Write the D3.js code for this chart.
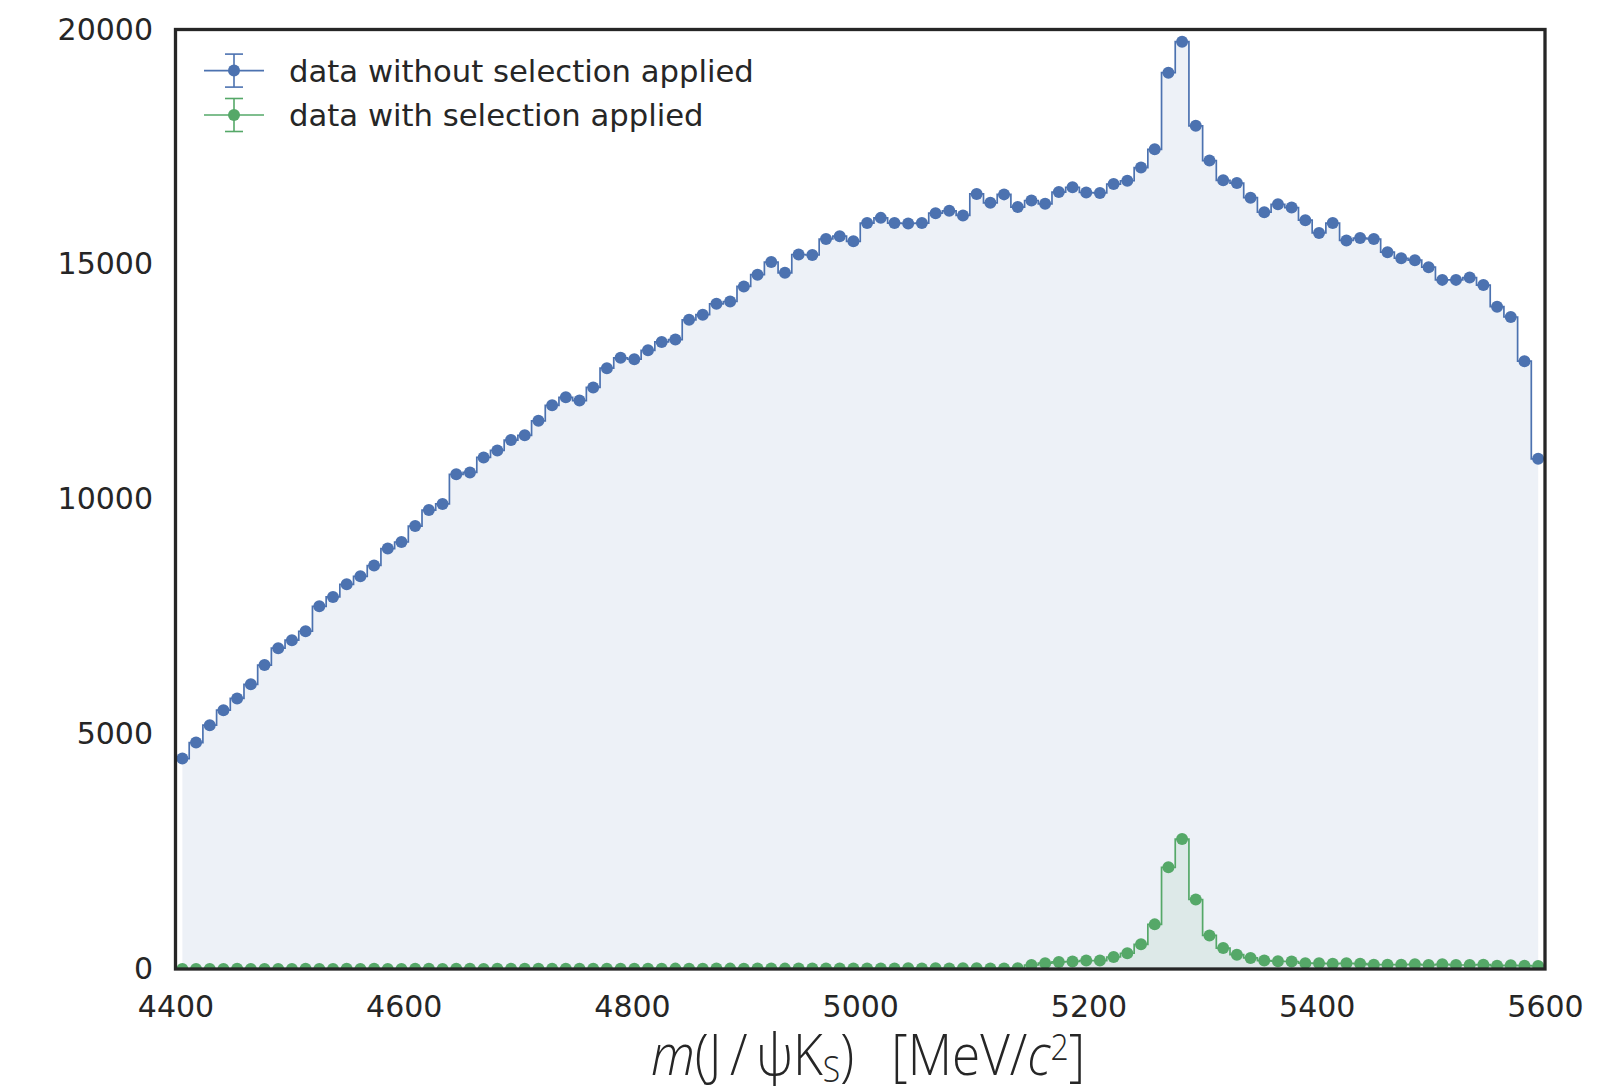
<!DOCTYPE html>
<html>
<head>
<meta charset="utf-8">
<script src="https://cdn.jsdelivr.net/npm/d3@7"></script>
<style>
  html, body { margin: 0; padding: 0; background: #ffffff; }
  svg { display: block; }
</style>
</head>
<body>
<svg id="chart" width="1624" height="1086"></svg>
<script>
// Histogram binning of the J/psi K_S invariant mass (MeV/c^2)
const massLow = 4400;
const massHigh = 5600;
const binWidth = 12;

const xTickValues = [4400, 4600, 4800, 5000, 5200, 5400, 5600];
const yTickValues = [0, 5000, 10000, 15000, 20000];

// Candidates per bin, no selection
const countsAll = [
  4480, 4820, 5190, 5510, 5760, 6060, 6470, 6830, 7000, 7190,
  7720, 7920, 8190, 8360, 8590, 8950, 9090, 9430, 9770, 9900,
  10530, 10570, 10890, 11040, 11260, 11360, 11670, 12000, 12170, 12100,
  12380, 12790, 13010, 12980, 13170, 13350, 13400, 13820, 13930, 14160,
  14210, 14530, 14780, 15050, 14820, 15210, 15200, 15540, 15600, 15490,
  15880, 15990, 15880, 15870, 15880, 16090, 16140, 16040, 16500, 16310,
  16490, 16220, 16360, 16290, 16540, 16640, 16530, 16520, 16710, 16780,
  17060, 17450, 19080, 19740, 17950, 17210, 16790, 16730, 16420, 16110,
  16280, 16210, 15940, 15670, 15880, 15510, 15560, 15540, 15260, 15130,
  15090, 14940, 14670, 14670, 14720, 14560, 14100, 13880, 12940, 10860
];

// Candidates per bin after the selection
const countsSelected = [
  0, 2, 0, 1, 3, 0, 2, 1, 0, 3,
  2, 1, 4, 2, 3, 1, 2, 4, 3, 2,
  3, 4, 2, 5, 3, 4, 6, 3, 5, 4,
  6, 5, 4, 7, 5, 6, 8, 6, 7, 9,
  8, 7, 9, 10, 8, 11, 9, 12, 10, 11,
  12, 13, 11, 14, 12, 15, 13, 14, 16, 10,
  12, 15, 85, 125, 150, 160, 180, 180, 255, 335,
  525, 950, 2165, 2765, 1480, 715, 445, 305, 235, 180,
  165, 160, 125, 120, 113, 120, 113, 92, 92, 92,
  99, 85, 99, 85, 85, 92, 71, 78, 71, 64
];

const binCenters = countsAll.map((_, i) => massLow + binWidth * (i + 0.5));

const colAll = "#4c72b0";
const colSel = "#55a868";
const ink = "#262626";

const svg = d3.select("#chart");
const plot = { left: 175.5, right: 1545, top: 29.5, bottom: 969 };

const x = d3.scaleLinear().domain([massLow, massHigh]).range([plot.left, plot.right]);
const y = d3.scaleLinear().domain([0, 20000]).range([plot.bottom, plot.top]);

svg.append("defs").append("clipPath").attr("id", "plotClip")
  .append("rect")
  .attr("x", plot.left).attr("y", plot.top)
  .attr("width", plot.right - plot.left).attr("height", plot.bottom - plot.top);

const g = svg.append("g").attr("clip-path", "url(#plotClip)");

function series(counts) {
  return counts.map((c, i) => ({ m: binCenters[i], n: c }));
}
const dataAll = series(countsAll);
const dataSel = series(countsSelected);

const area = d3.area().curve(d3.curveStep)
  .x(d => x(d.m)).y0(y(0)).y1(d => y(d.n));
const line = d3.line().curve(d3.curveStep)
  .x(d => x(d.m)).y(d => y(d.n));

// shaded histograms
g.append("path").attr("d", area(dataAll)).attr("fill", colAll).attr("fill-opacity", 0.1);
g.append("path").attr("d", area(dataSel)).attr("fill", colSel).attr("fill-opacity", 0.1);

// step outlines and markers
[[dataAll, colAll], [dataSel, colSel]].forEach(([data, col]) => {
  g.append("path").attr("d", line(data))
    .attr("fill", "none").attr("stroke", col).attr("stroke-width", 1.7);
  g.append("g").selectAll("circle").data(data).join("circle")
    .attr("cx", d => x(d.m)).attr("cy", d => y(d.n)).attr("r", 6)
    .attr("fill", col);
});

// axes (labels only, no tick marks)
const fontTicks = "'DejaVu Sans', sans-serif";
const xAxis = svg.append("g").attr("transform", `translate(0,${plot.bottom})`)
  .call(d3.axisBottom(x).tickValues(xTickValues).tickSize(0).tickPadding(27).tickFormat(d3.format("d")));
const yAxis = svg.append("g").attr("transform", `translate(${plot.left},0)`)
  .call(d3.axisLeft(y).tickValues(yTickValues).tickSize(0).tickPadding(22.5).tickFormat(d3.format("d")));
[xAxis, yAxis].forEach(a => {
  a.select(".domain").remove();
  a.selectAll("text").attr("fill", ink).style("font-family", fontTicks).style("font-size", "30px");
});

// frame
svg.append("rect")
  .attr("x", plot.left).attr("y", plot.top)
  .attr("width", plot.right - plot.left).attr("height", plot.bottom - plot.top)
  .attr("fill", "none").attr("stroke", ink).attr("stroke-width", 3.3);

// legend
const legendItems = [
  { label: "data without selection applied", col: colAll, cy: 70.6 },
  { label: "data with selection applied", col: colSel, cy: 115 }
];
const lg = svg.append("g");
legendItems.forEach(it => {
  const hx = 234;
  lg.append("line").attr("x1", 204).attr("x2", 264).attr("y1", it.cy).attr("y2", it.cy)
    .attr("stroke", it.col).attr("stroke-width", 1.6);
  lg.append("line").attr("x1", hx).attr("x2", hx).attr("y1", it.cy - 16.5).attr("y2", it.cy + 16.5)
    .attr("stroke", it.col).attr("stroke-width", 1.6);
  [-16.5, 16.5].forEach(o => lg.append("line")
    .attr("x1", hx - 9).attr("x2", hx + 9).attr("y1", it.cy + o).attr("y2", it.cy + o)
    .attr("stroke", it.col).attr("stroke-width", 1.6));
  lg.append("circle").attr("cx", hx).attr("cy", it.cy).attr("r", 6).attr("fill", it.col);
  lg.append("text").attr("x", 289).attr("y", it.cy + 11.2)
    .attr("fill", ink).style("font-family", fontTicks).style("font-size", "30.7px")
    .text(it.label);
});

// x-axis title: m(J/ψK_S)  [MeV/c²]
const titleX = 868;
const title = svg.append("text")
  .attr("x", titleX).attr("y", 1075)
  .attr("text-anchor", "middle")
  .attr("transform", `translate(${titleX},0) scale(0.885,1) translate(${-titleX},0)`)
  .attr("fill", ink)
  .style("font-family", "'Open Sans', 'Noto Sans', sans-serif")
  .style("font-weight", 300)
  .style("font-size", "58px");
title.append("tspan").style("font-style", "italic").text("m");
title.append("tspan").text("(J\u2009/\u2009\u03c8K");
title.append("tspan").attr("font-size", "36px").attr("dy", 7).text("S");
title.append("tspan").attr("dy", -7).text(")");
title.append("tspan").attr("dx", 42).text("[MeV/");
title.append("tspan").style("font-style", "italic").text("c");
title.append("tspan").attr("font-size", "36px").attr("dy", -15).text("2");
title.append("tspan").attr("dy", 15).text("]");
</script>
</body>
</html>
